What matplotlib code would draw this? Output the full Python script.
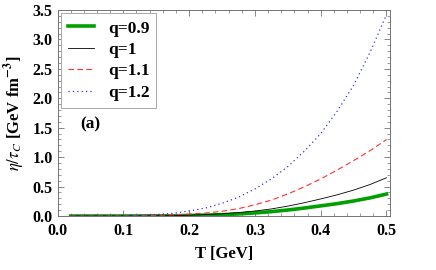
import numpy as np
import matplotlib
matplotlib.use("Agg")
import matplotlib.pyplot as plt
from matplotlib.ticker import MultipleLocator

plt.rcParams["font.family"] = ["Liberation Serif", "DejaVu Serif"]
plt.rcParams["mathtext.fontset"] = "stix"

# temperature grid [GeV] and eta/tau_C [GeV fm^-3]
T = [0.02, 0.05, 0.075, 0.1, 0.125, 0.15, 0.175, 0.2, 0.225, 0.25, 0.275,
     0.3, 0.325, 0.35, 0.375, 0.4, 0.425, 0.45, 0.475, 0.5]
q09 = [0.0, 0.0, 0.0, 0.0003, 0.001, 0.002, 0.004, 0.008, 0.014, 0.022, 0.035,
       0.052, 0.074, 0.102, 0.135, 0.172, 0.21, 0.255, 0.308, 0.373]
q10 = [0.0, 0.0, 0.0002, 0.001, 0.002, 0.004, 0.008, 0.014, 0.024, 0.037, 0.058,
       0.085, 0.12, 0.168, 0.225, 0.29, 0.36, 0.44, 0.535, 0.65]
q11 = [0.0, 0.0, 0.001, 0.002, 0.005, 0.01, 0.02, 0.033, 0.05, 0.08, 0.125,
       0.19, 0.27, 0.375, 0.495, 0.63, 0.78, 0.94, 1.11, 1.30]
q12 = [0.0, 0.0005, 0.002, 0.005, 0.012, 0.025, 0.045, 0.085, 0.135, 0.215, 0.32,
       0.46, 0.63, 0.84, 1.10, 1.40, 1.78, 2.22, 2.78, 3.42]

fig = plt.figure(figsize=(4.36, 2.70), dpi=100)
ax = fig.add_axes([0.132, 0.2, 0.762, 0.763])

ax.plot(T, q09, color="#00a000", lw=2.6, label="q=0.9")
ax.plot(T, q10, color="black", lw=0.6, label="q=1")
ax.plot(T, q11, color="#ff3030", lw=0.8, ls=(0, (5, 3)), label="q=1.1")
ax.plot(T, q12, color="#3030ff", lw=0.9, ls=(0, (1, 2.5)), label="q=1.2")

ax.set_xlim(0, 0.505)
ax.set_ylim(0, 3.5)
ax.xaxis.set_major_locator(MultipleLocator(0.1))
ax.xaxis.set_minor_locator(MultipleLocator(0.02))
ax.yaxis.set_major_locator(MultipleLocator(0.5))
ax.yaxis.set_minor_locator(MultipleLocator(0.1))
ax.tick_params(which="both", direction="in", top=True, right=True,
               color="0.45", labelsize=11.5)
ax.tick_params(axis="x", pad=5)
ax.tick_params(which="major", length=4, width=0.6)
ax.tick_params(which="minor", length=2, width=0.5)
for lab in ax.get_xticklabels() + ax.get_yticklabels():
    lab.set_fontweight("bold")
for s in ax.spines.values():
    s.set_color("0.45")
    s.set_linewidth(0.7)

ax.set_xlabel("T [GeV]", fontsize=12, fontweight="bold", labelpad=5)
ax.set_ylabel(r"$\eta/\tau_C$ [GeV fm$^{\mathbf{-3}}$]", fontsize=12,
              fontweight="bold", labelpad=4)

ax.text(0.034, 1.56, "(a)", fontsize=12.5, fontweight="bold", va="center")

leg = ax.legend(loc="upper left", prop={"weight": "bold", "size": 12.5},
                fancybox=False, edgecolor="0.6", framealpha=1,
                handlelength=1.5, handletextpad=0.8, borderaxespad=0.2,
                labelspacing=0.3, borderpad=0.4)
leg.get_frame().set_linewidth(0.6)

fig.savefig("out.png", dpi=100)
